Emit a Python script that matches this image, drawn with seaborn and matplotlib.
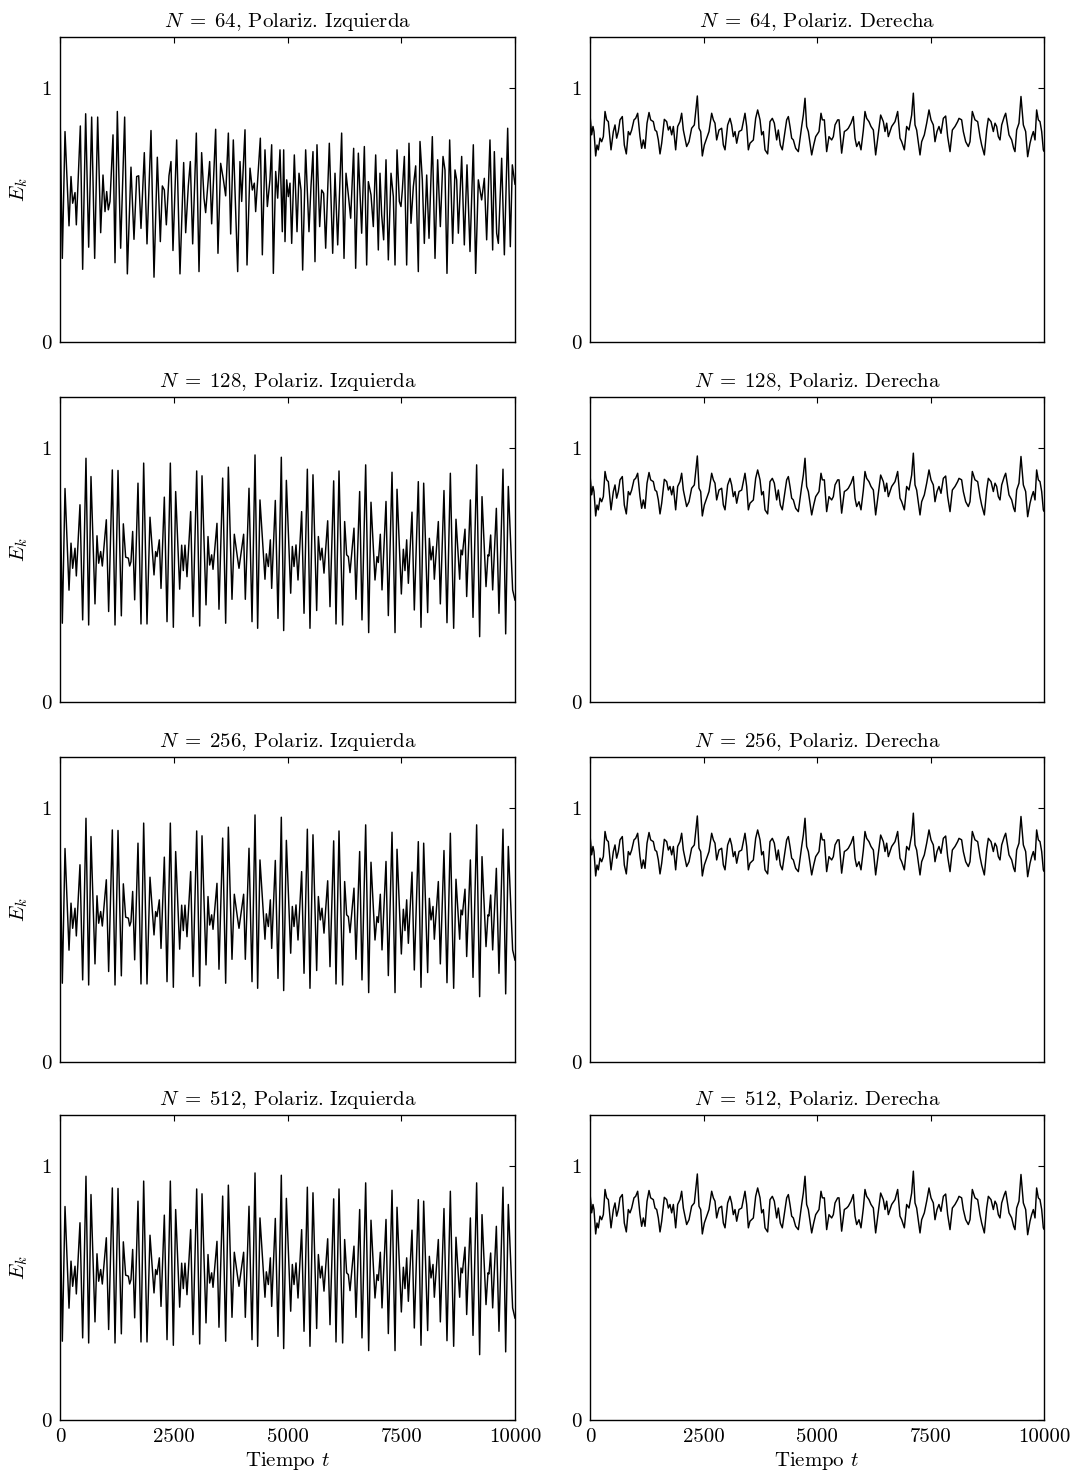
import numpy as np
import pandas as pd
import matplotlib
matplotlib.use("Agg")
import matplotlib.pyplot as plt
import seaborn as sns

# Kinetic energy E_k(t), left polarisation, N = 64
t_izq_64 = [0, 51, 110, 198, 242, 278, 330, 359, 447, 498, 564, 630, 696, 762, 828, 894, 945, 989,
            1026, 1062, 1099, 1165, 1209, 1260, 1333, 1421, 1480, 1560, 1626, 1685, 1729, 1780, 1853,
            1912, 2000, 2066, 2139, 2205, 2249, 2293, 2337, 2395, 2439, 2483, 2564, 2637, 2718, 2762,
            2820, 2864, 2916, 2996, 3055, 3113, 3165, 3201, 3245, 3289, 3333, 3421, 3472, 3531, 3590,
            3641, 3700, 3751, 3809, 3905, 3956, 3993, 4066, 4110, 4176, 4227, 4271, 4300, 4403, 4447,
            4505, 4557, 4615, 4652, 4689, 4740, 4784, 4835, 4886, 4916, 4945, 4982, 5018, 5055, 5092,
            5150, 5209, 5253, 5297, 5333, 5399, 5472, 5516, 5560, 5604, 5648, 5707, 5751, 5795, 5839,
            5919, 5993, 6044, 6103, 6190, 6242, 6286, 6337, 6388, 6454, 6498, 6557, 6630, 6689, 6740,
            6777, 6835, 6886, 6938, 6996, 7033, 7070, 7113, 7165, 7216, 7275, 7326, 7363, 7407, 7458,
            7494, 7524, 7568, 7619, 7670, 7714, 7766, 7817, 7875, 7912, 7963, 8007, 8059, 8110, 8183,
            8242, 8300, 8359, 8418, 8461, 8505, 8564, 8630, 8681, 8718, 8755, 8828, 8886, 8945, 9011,
            9084, 9135, 9194, 9267, 9326, 9377, 9450, 9509, 9546, 9597, 9634, 9707, 9766, 9839, 9897,
            9941, 10000]
e_izq_64 = [0.913, 0.329, 0.828, 0.457, 0.651, 0.546, 0.588, 0.461, 0.850, 0.286, 0.898, 0.373, 0.885,
            0.329, 0.885, 0.430, 0.657, 0.513, 0.592, 0.520, 0.553, 0.815, 0.312, 0.907, 0.369, 0.885,
            0.268, 0.688, 0.404, 0.651, 0.654, 0.447, 0.745, 0.386, 0.832, 0.255, 0.727, 0.395, 0.614,
            0.598, 0.461, 0.654, 0.710, 0.360, 0.795, 0.268, 0.706, 0.430, 0.614, 0.710, 0.386, 0.822,
            0.277, 0.745, 0.566, 0.509, 0.612, 0.710, 0.465, 0.837, 0.349, 0.703, 0.640, 0.575, 0.822,
            0.425, 0.795, 0.277, 0.710, 0.553, 0.835, 0.303, 0.684, 0.598, 0.625, 0.513, 0.802, 0.343,
            0.756, 0.533, 0.640, 0.776, 0.270, 0.671, 0.566, 0.756, 0.434, 0.756, 0.395, 0.638, 0.572,
            0.625, 0.388, 0.736, 0.434, 0.664, 0.598, 0.283, 0.756, 0.434, 0.612, 0.749, 0.316, 0.776,
            0.454, 0.598, 0.585, 0.369, 0.782, 0.349, 0.664, 0.382, 0.822, 0.329, 0.664, 0.579, 0.487,
            0.762, 0.290, 0.743, 0.428, 0.769, 0.303, 0.631, 0.579, 0.454, 0.736, 0.362, 0.664, 0.500,
            0.402, 0.717, 0.323, 0.664, 0.572, 0.303, 0.756, 0.553, 0.533, 0.598, 0.730, 0.303, 0.782,
            0.467, 0.612, 0.693, 0.277, 0.789, 0.638, 0.388, 0.657, 0.408, 0.808, 0.329, 0.717, 0.454,
            0.730, 0.677, 0.270, 0.795, 0.388, 0.677, 0.638, 0.428, 0.730, 0.382, 0.697, 0.356, 0.776,
            0.270, 0.638, 0.559, 0.644, 0.402, 0.795, 0.362, 0.749, 0.428, 0.388, 0.723, 0.343, 0.841,
            0.375, 0.697, 0.620]

# Kinetic energy E_k(t), left polarisation, N = 128, 256, 512
t_izq = [0, 51, 110, 198, 242, 278, 330, 359, 439, 498, 571, 630, 681, 769, 813, 850, 894, 930, 1018,
         1069, 1150, 1209, 1275, 1348, 1392, 1443, 1502, 1531, 1560, 1597, 1641, 1714, 1780, 1839, 1912,
         1978, 2066, 2102, 2132, 2183, 2220, 2293, 2352, 2425, 2491, 2542, 2630, 2674, 2710, 2747, 2791,
         2872, 2923, 3004, 3070, 3121, 3209, 3253, 3289, 3333, 3363, 3450, 3494, 3575, 3641, 3700, 3780,
         3831, 3897, 3934, 4036, 4073, 4154, 4220, 4286, 4344, 4395, 4505, 4535, 4579, 4623, 4652, 4732,
         4791, 4864, 4916, 4975, 5070, 5106, 5143, 5187, 5231, 5311, 5363, 5436, 5494, 5560, 5641, 5678,
         5722, 5758, 5802, 5883, 5934, 6015, 6066, 6132, 6212, 6256, 6300, 6337, 6374, 6461, 6505, 6586,
         6637, 6718, 6784, 6835, 6923, 6967, 6996, 7040, 7077, 7165, 7216, 7297, 7363, 7407, 7502, 7546,
         7582, 7619, 7656, 7736, 7787, 7875, 7934, 7993, 8080, 8117, 8154, 8198, 8227, 8315, 8359, 8439,
         8505, 8579, 8652, 8703, 8784, 8813, 8843, 8901, 8938, 9019, 9077, 9157, 9223, 9275, 9363, 9406,
         9428, 9465, 9509, 9590, 9648, 9736, 9795, 9853, 9948, 10000]
e_izq = [0.880, 0.310, 0.840, 0.440, 0.625, 0.526, 0.605, 0.496, 0.776, 0.323, 0.959, 0.303, 0.887,
         0.386, 0.654, 0.546, 0.592, 0.535, 0.717, 0.356, 0.913, 0.303, 0.911, 0.339, 0.701, 0.570,
         0.566, 0.535, 0.552, 0.671, 0.402, 0.861, 0.307, 0.940, 0.307, 0.727, 0.500, 0.592, 0.572,
         0.638, 0.447, 0.806, 0.316, 0.940, 0.294, 0.828, 0.444, 0.617, 0.517, 0.617, 0.493, 0.749,
         0.336, 0.909, 0.299, 0.890, 0.382, 0.651, 0.539, 0.579, 0.522, 0.703, 0.365, 0.881, 0.310,
         0.924, 0.404, 0.660, 0.572, 0.526, 0.660, 0.404, 0.841, 0.316, 0.972, 0.290, 0.795, 0.483,
         0.583, 0.533, 0.638, 0.447, 0.793, 0.329, 0.963, 0.281, 0.872, 0.428, 0.612, 0.533, 0.618,
         0.480, 0.749, 0.349, 0.916, 0.290, 0.894, 0.360, 0.651, 0.559, 0.605, 0.507, 0.713, 0.375,
         0.870, 0.307, 0.909, 0.303, 0.710, 0.579, 0.572, 0.509, 0.684, 0.404, 0.828, 0.323, 0.933,
         0.273, 0.786, 0.480, 0.572, 0.549, 0.660, 0.441, 0.789, 0.340, 0.904, 0.273, 0.837, 0.425,
         0.601, 0.517, 0.638, 0.467, 0.747, 0.362, 0.867, 0.294, 0.861, 0.352, 0.644, 0.559, 0.612,
         0.483, 0.710, 0.386, 0.832, 0.312, 0.900, 0.290, 0.719, 0.483, 0.598, 0.579, 0.680, 0.415,
         0.795, 0.333, 0.933, 0.257, 0.808, 0.454, 0.579, 0.575, 0.657, 0.441, 0.762, 0.349, 0.916,
         0.268, 0.848, 0.441, 0.400]

# Kinetic energy E_k(t), right polarisation (all N)
t_der = [0, 37, 66, 88, 125, 154, 184, 220, 257, 294, 331, 367, 404, 463, 514, 551, 587, 624, 661, 712,
         756, 800, 844, 881, 918, 969, 1006, 1050, 1101, 1138, 1175, 1212, 1256, 1300, 1336, 1395, 1432,
         1469, 1505, 1542, 1579, 1637, 1689, 1726, 1762, 1799, 1836, 1887, 1931, 1982, 2019, 2056, 2093,
         2129, 2181, 2239, 2298, 2364, 2401, 2438, 2474, 2518, 2570, 2621, 2680, 2717, 2753, 2790, 2841,
         2900, 2937, 2974, 3032, 3084, 3120, 3157, 3194, 3231, 3282, 3341, 3414, 3451, 3488, 3524, 3598,
         3649, 3693, 3745, 3781, 3818, 3855, 3913, 3965, 4016, 4060, 4112, 4148, 4192, 4236, 4295, 4332,
         4369, 4405, 4442, 4479, 4530, 4589, 4662, 4699, 4736, 4772, 4809, 4883, 4927, 4971, 5044, 5088,
         5118, 5162, 5213, 5264, 5323, 5360, 5397, 5455, 5485, 5543, 5602, 5653, 5690, 5749, 5800, 5837,
         5874, 5925, 5969, 6021, 6057, 6094, 6145, 6189, 6241, 6292, 6351, 6402, 6461, 6498, 6535, 6571,
         6645, 6718, 6777, 6828, 6865, 6924, 6975, 7026, 7085, 7122, 7159, 7195, 7269, 7305, 7364, 7416,
         7467, 7511, 7562, 7599, 7643, 7687, 7731, 7783, 7834, 7878, 7930, 7981, 8040, 8098, 8128, 8186,
         8223, 8275, 8333, 8370, 8421, 8480, 8539, 8590, 8627, 8686, 8737, 8774, 8833, 8884, 8921, 8957,
         8994, 9031, 9068, 9126, 9156, 9200, 9229, 9288, 9332, 9361, 9398, 9449, 9493, 9545, 9596, 9640,
         9692, 9728, 9765, 9802, 9838, 9875, 9912, 9949, 9985, 10000]
e_der = [0.893, 0.815, 0.848, 0.828, 0.732, 0.775, 0.756, 0.802, 0.788, 0.808, 0.907, 0.874, 0.867,
         0.756, 0.828, 0.854, 0.802, 0.828, 0.874, 0.887, 0.775, 0.740, 0.828, 0.815, 0.834, 0.874,
         0.880, 0.900, 0.808, 0.762, 0.795, 0.762, 0.861, 0.903, 0.874, 0.867, 0.834, 0.828, 0.795,
         0.740, 0.782, 0.876, 0.867, 0.834, 0.848, 0.815, 0.848, 0.756, 0.848, 0.867, 0.900, 0.834,
         0.802, 0.769, 0.788, 0.841, 0.854, 0.968, 0.841, 0.828, 0.732, 0.775, 0.802, 0.828, 0.900,
         0.874, 0.861, 0.795, 0.834, 0.841, 0.775, 0.756, 0.854, 0.880, 0.854, 0.808, 0.828, 0.782,
         0.828, 0.834, 0.900, 0.848, 0.756, 0.782, 0.795, 0.880, 0.913, 0.874, 0.815, 0.828, 0.756,
         0.740, 0.867, 0.880, 0.861, 0.795, 0.834, 0.775, 0.756, 0.828, 0.874, 0.887, 0.848, 0.802,
         0.795, 0.762, 0.749, 0.848, 0.893, 0.959, 0.848, 0.828, 0.736, 0.775, 0.808, 0.828, 0.900,
         0.874, 0.874, 0.749, 0.808, 0.795, 0.808, 0.854, 0.874, 0.874, 0.743, 0.828, 0.834, 0.841,
         0.861, 0.887, 0.802, 0.769, 0.788, 0.756, 0.834, 0.907, 0.880, 0.867, 0.848, 0.834, 0.736,
         0.821, 0.893, 0.867, 0.828, 0.861, 0.808, 0.848, 0.867, 0.907, 0.802, 0.788, 0.756, 0.848,
         0.834, 0.893, 0.979, 0.854, 0.834, 0.736, 0.788, 0.815, 0.861, 0.913, 0.874, 0.854, 0.788,
         0.828, 0.848, 0.821, 0.880, 0.889, 0.808, 0.749, 0.834, 0.848, 0.867, 0.880, 0.874, 0.828,
         0.788, 0.769, 0.788, 0.907, 0.874, 0.867, 0.808, 0.775, 0.736, 0.834, 0.880, 0.867, 0.828,
         0.861, 0.848, 0.808, 0.795, 0.854, 0.887, 0.900, 0.848, 0.815, 0.795, 0.762, 0.749, 0.834,
         0.861, 0.966, 0.854, 0.828, 0.729, 0.782, 0.808, 0.828, 0.795, 0.913, 0.874, 0.867, 0.828,
         0.756, 0.750]

n_values = [64, 128, 256, 512]
x_ticks = [0, 2500, 5000, 7500, 10000]
y_ticks = [0, 1]

sns.set_theme(style="white")
plt.rcParams.update({
    "font.family": ["cmr10", "DejaVu Serif"],
    "mathtext.fontset": "cm",
    "axes.formatter.use_mathtext": True,
    "axes.edgecolor": "black",
    "axes.linewidth": 1.0,
    "xtick.direction": "in",
    "ytick.direction": "in",
    "xtick.color": "black",
    "ytick.color": "black",
    "text.color": "black",
    "axes.labelcolor": "black",
})

izq = pd.DataFrame({"t": t_izq, "E": e_izq})
izq64 = pd.DataFrame({"t": t_izq_64, "E": e_izq_64})
der = pd.DataFrame({"t": t_der, "E": e_der})

fig = plt.figure(figsize=(10.76, 14.79), dpi=100)
W, H = 1076.0, 1479.0
col_left = [60, 590]
col_width = [455, 454]
row_bottom = [342, 702, 1062, 1420]
row_height = 305
fs = 15

for r, n in enumerate(n_values):
    for c in range(2):
        ax = fig.add_axes([col_left[c] / W, 1 - row_bottom[r] / H,
                           col_width[c] / W, row_height / H])
        if c == 0:
            data = izq64 if n == 64 else izq
            side = "Izquierda"
        else:
            data = der
            side = "Derecha"
        sns.lineplot(data=data, x="t", y="E", ax=ax, color="black",
                     linewidth=1.05, sort=False, estimator=None)
        ax.set_xlim(0, 10000)
        ax.set_ylim(0, 1.2)
        ax.set_xticks(x_ticks)
        ax.set_yticks(y_ticks)
        ax.set_yticklabels([str(v) for v in y_ticks], fontsize=fs)
        ax.tick_params(axis="both", which="both", top=True, right=True,
                       length=4, width=0.8, pad=6)
        if r == len(n_values) - 1:
            ax.set_xticklabels([str(v) for v in x_ticks], fontsize=fs)
            ax.set_xlabel(r"Tiempo $t$", fontsize=fs, labelpad=3)
        else:
            ax.set_xticklabels([])
            ax.set_xlabel("")
        if c == 0:
            ax.set_ylabel(r"$E_k$", fontsize=fs, labelpad=8)
        else:
            ax.set_ylabel("")
        ax.set_title(rf"$N\;=\;{n}$, Polariz. {side}", fontsize=fs, pad=7)
        for s in ax.spines.values():
            s.set_visible(True)
            s.set_color("black")

fig.savefig("out.png", dpi=100, facecolor="white")
